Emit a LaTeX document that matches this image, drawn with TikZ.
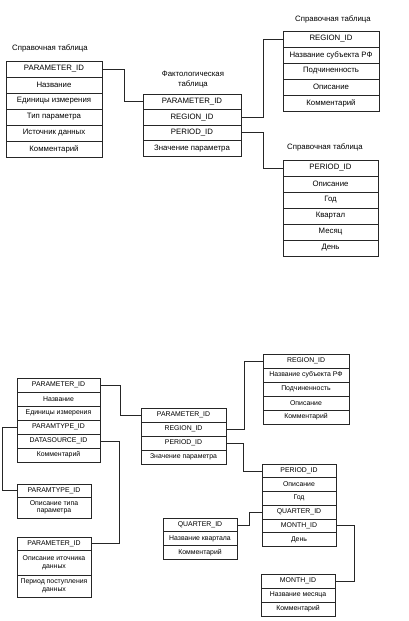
\documentclass[tikz,border=0pt]{standalone}
\usepackage{fontspec}
\setmainfont{Liberation Sans}
\newcommand\topfnt{\fontsize{7.8}{9}\selectfont}
\newcommand\botfnt{\fontsize{6.9}{7.6}\selectfont}
\begin{document}
\begin{tikzpicture}[x=1pt,y=-1pt,
  cell/.style={draw=black!85, line width=0.6pt, rectangle, inner sep=0pt, outer sep=0pt, anchor=north west, align=center},
  tc/.style={cell, font=\topfnt},
  bc/.style={cell, font=\botfnt},
  lbl/.style={font=\topfnt, align=center, inner sep=0pt},
  conn/.style={draw=black!85, line width=0.6pt}]
\useasboundingbox (0,0) rectangle (408,621);
% ---------- top half ----------
\node[lbl] (l1) at (50,48) {Справочная таблица};
\begin{scope}[every node/.style={tc, minimum width=96pt, minimum height=16pt}]
\node (ta) at (6,61) {PARAMETER\_ID};
\node (tb) at (6,77) {Название};
\node (tc) at (6,93) {Единицы измерения};
\node (td) at (6,109) {Тип параметра};
\node (te) at (6,125) {Источник данных};
\node (tf) at (6,141) {Комментарий};
\end{scope}
\node[lbl] (l2) at (193,80) {Фактологическая\\[1pt]таблица};
\begin{scope}[every node/.style={tc, minimum width=98pt, minimum height=15.5pt}]
\node (fa) at (143,94) {PARAMETER\_ID};
\node (fb) at (143,109.5) {REGION\_ID};
\node (fc) at (143,125) {PERIOD\_ID};
\node (fd) at (143,140.5) {Значение параметра};
\end{scope}
\node[lbl] (l3) at (333,19) {Справочная таблица};
\begin{scope}[every node/.style={tc, minimum width=96pt, minimum height=16pt}]
\node (ra) at (283,31) {REGION\_ID};
\node (rb) at (283,47) {Название субъекта РФ};
\node (rc) at (283,63) {Подчиненность};
\node (rd) at (283,79) {Описание};
\node (re) at (283,95) {Комментарий};
\end{scope}
\node[lbl] (l4) at (325,147) {Справочная таблица};
\begin{scope}[every node/.style={tc, minimum width=95pt, minimum height=16pt}]
\node (pa) at (283,160) {PERIOD\_ID};
\node (pb) at (283,176) {Описание};
\node (pc) at (283,192) {Год};
\node (pd) at (283,208) {Квартал};
\node (pe) at (283,224) {Месяц};
\node (pf) at (283,240) {День};
\end{scope}
\draw[conn] (ta.east) -- ++(22,0) |- (fa.west);
\draw[conn] (fb.east) -- ++(22,0) |- (ra.west);
\draw[conn] (fc.east) -- ++(22,0) |- (pa.west);
% ---------- bottom half ----------
\begin{scope}[every node/.style={bc, minimum width=83pt, minimum height=14pt}]
\node (ba) at (17,378) {PARAMETER\_ID};
\node (bb) at (17,392) {Название};
\node (bcc) at (17,406) {Единицы измерения};
\node (bd) at (17,420) {PARAMTYPE\_ID};
\node (be) at (17,434) {DATASOURCE\_ID};
\node (bf) at (17,448) {Комментарий};
\end{scope}
\begin{scope}[every node/.style={bc, minimum width=85pt, minimum height=14pt}]
\node (bfa) at (141,408) {PARAMETER\_ID};
\node (bfb) at (141,422) {REGION\_ID};
\node (bfc) at (141,436) {PERIOD\_ID};
\node (bfd) at (141,450) {Значение параметра};
\end{scope}
\begin{scope}[every node/.style={bc, minimum width=86pt, minimum height=14pt}]
\node (bra) at (263,354) {REGION\_ID};
\node (brb) at (263,368) {Название субъекта РФ};
\node (brc) at (263,382) {Подчиненность};
\node (brd) at (263,396) {Описание};
\node (bre) at (263,410) {Комментарий};
\end{scope}
\begin{scope}[every node/.style={bc, minimum width=74pt, minimum height=13.7pt}]
\node (bpa) at (262,464) {PERIOD\_ID};
\node (bpb) at (262,477.7) {Описание};
\node (bpc) at (262,491.4) {Год};
\node (bpd) at (262,505.1) {QUARTER\_ID};
\node (bpe) at (262,518.8) {MONTH\_ID};
\node (bpf) at (262,532.5) {День};
\node (qa) at (163,518) {QUARTER\_ID};
\node (qb) at (163,531.7) {Название квартала};
\node (qc) at (163,545.4) {Комментарий};
\end{scope}
\begin{scope}[every node/.style={bc, minimum width=74pt, minimum height=14pt}]
\node (ma) at (261,574) {MONTH\_ID};
\node (mb) at (261,588) {Название месяца};
\node (mc) at (261,602) {Комментарий};
\end{scope}
\begin{scope}[every node/.style={bc, minimum width=74pt}]
\node[minimum height=13pt] (pta) at (17,484) {PARAMTYPE\_ID};
\node[minimum height=21pt] (ptb) at (17,497) {Описание типа\\параметра};
\node[minimum height=13pt] (dsa) at (17,537) {PARAMETER\_ID};
\node[minimum height=25pt] (dsb) at (17,550) {Описание иточника\\данных};
\node[minimum height=22pt] (dsc) at (17,575) {Период поступления\\данных};
\end{scope}
\draw[conn] (ba.east) -- ++(20,0) |- (bfa.west);
\draw[conn] (bfb.east) -- ++(18,0) |- (bra.west);
\draw[conn] (bfc.east) -- ++(17,0) |- (bpa.west);
\draw[conn] (bpd.west) -- ++(-13,0) |- (qa.east);
\draw[conn] (bpe.east) -- ++(18,0) |- (ma.east);
\draw[conn] (bd.west) -- ++(-15,0) |- (pta.west);
\draw[conn] (be.east) -- ++(19,0) |- (dsa.east);
\end{tikzpicture}
\end{document}
